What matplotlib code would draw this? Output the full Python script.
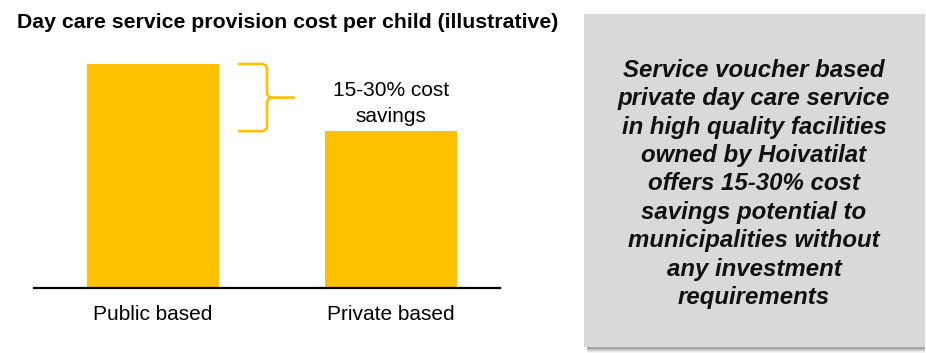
import matplotlib.pyplot as plt
from matplotlib.patches import Rectangle, PathPatch
from matplotlib.path import Path

plt.rcParams['font.family'] = ['Liberation Sans', 'DejaVu Sans']

# cost index per child
categories = ["Public based", "Private based"]
costs = [100, 70]
savings_label = "15-30% cost\nsavings"
title = "Day care service provision cost per child (illustrative)"
box_text = ("Service voucher based\nprivate day care service\nin high quality facilities\n"
            "owned by Hoivatilat\noffers 15-30% cost\nsavings potential to\n"
            "municipalities without\nany investment\nrequirements")

W, H = 926, 353
fig = plt.figure(figsize=(W / 100, H / 100), dpi=100)

def fx(px):
    return px / W

def fy(py):
    return 1 - py / H

gold = "#FFC000"

# bar axes
ax = fig.add_axes([fx(34), fy(288), fx(500) - fx(34), fy(40) - fy(288)])
ax.bar(range(len(costs)), costs, width=0.555, color=gold)
ax.set_xlim(-0.5, 1.458)
ax.set_ylim(0, 110.7)
for s in ["top", "right", "left"]:
    ax.spines[s].set_visible(False)
ax.spines["bottom"].set_linewidth(1.6)
ax.set_yticks([])
ax.set_xticks(range(len(categories)))
ax.set_xticklabels(categories, fontsize=15)
ax.tick_params(axis="x", length=0, pad=12)

# curly brace between the two bar tops
top, bot = costs[0], costs[1]
mid = (top + bot) / 2
x0, xv, xt = 0.362, 0.479, 0.592
r_x, r_y = 0.025, 2.4
upper = Path([(x0, top), (xv - r_x, top), (xv, top), (xv, top - r_y),
              (xv, mid + r_y), (xv, mid), (xv + r_x, mid), (xt, mid)],
             [Path.MOVETO, Path.LINETO, Path.CURVE3, Path.CURVE3,
              Path.LINETO, Path.CURVE3, Path.CURVE3, Path.LINETO])
lower = Path([(x0, bot), (xv - r_x, bot), (xv, bot), (xv, bot + r_y),
              (xv, mid - r_y), (xv, mid), (xv + r_x, mid)],
             [Path.MOVETO, Path.LINETO, Path.CURVE3, Path.CURVE3,
              Path.LINETO, Path.CURVE3, Path.CURVE3])
for p in (upper, lower):
    ax.add_patch(PathPatch(p, facecolor="none", edgecolor=gold, lw=1.9,
                           capstyle="round", clip_on=False))

ax.text(1, costs[1] + 2.2, savings_label, ha="center", va="bottom",
        fontsize=15, linespacing=1.5)

fig.text(fx(17), fy(22), title, fontsize=15.3, fontweight="bold", va="center")

# grey callout box with soft shadow
bx0, by0, bx1, by1 = 584, 14, 925, 347
for i, a in enumerate([0.04, 0.06, 0.08, 0.10, 0.12]):
    off = 6 - i
    fig.patches.append(Rectangle((fx(bx0 + 3), fy(by1 + off)), fx(bx1) - fx(bx0 + 3),
                                 fy(by0 + off) - fy(by1 + off),
                                 transform=fig.transFigure, facecolor="black",
                                 alpha=a, edgecolor="none", zorder=1))
fig.patches.append(Rectangle((fx(bx0), fy(by1)), fx(bx1) - fx(bx0), fy(by0) - fy(by1),
                             transform=fig.transFigure, facecolor="#d9d9d9",
                             edgecolor="none", zorder=2))
fig.text(fx(754), fy(184), box_text, ha="center", va="center", fontsize=17.3,
         fontweight="bold", fontstyle="italic", linespacing=1.3, color="#111111",
         zorder=3)

fig.savefig("out.png", dpi=100)
